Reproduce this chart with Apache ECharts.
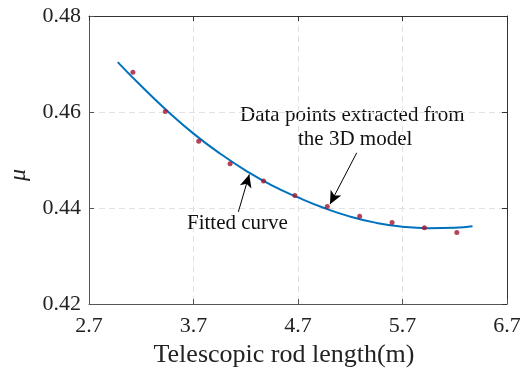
<!DOCTYPE html>
<html>
<head>
<meta charset="utf-8">
<script src="https://cdn.jsdelivr.net/npm/echarts@6/dist/echarts.min.js"></script>
<style>
  html, body { margin: 0; padding: 0; background: #fff; }
  #chart { width: 520px; height: 370px; }
</style>
</head>
<body>
<div id="chart"></div>
<script>
const rodLength = [3.12, 3.43, 3.75, 4.05, 4.37, 4.67, 4.98, 5.29, 5.60, 5.91, 6.22];
const muPoints = [0.4683, 0.4601, 0.4539, 0.4492, 0.4456, 0.4426, 0.4403, 0.4383, 0.4370, 0.4359, 0.4349];

// fitted curve
const fitX = [2.975, 3.2, 3.45, 3.7, 3.95, 4.2, 4.45, 4.7, 4.95, 5.2, 5.45, 5.7, 5.95, 6.2, 6.37];
const fitY = [0.4704, 0.4654, 0.4602, 0.4555, 0.4514, 0.4478, 0.4447, 0.4422, 0.4400, 0.4382, 0.4369, 0.4361, 0.4358, 0.4359, 0.4362];

const xTicks = [2.7, 3.7, 4.7, 5.7, 6.7];
const yTicks = [0.42, 0.44, 0.46, 0.48];

const font = "'Liberation Serif', 'Times New Roman', serif";
const axisGray = "#555";

const chart = echarts.init(document.getElementById("chart"));

const arrowLine = (from, to) => [
  { coord: from, symbol: "none" },
  { coord: to, symbol: "arrow" },
];

const option = {
  animation: false,
  grid: { left: 89, right: 13, top: 16, bottom: 66, outerBoundsMode: "none", containLabel: false },
  xAxis: [
    {
      type: "value",
      min: xTicks[0],
      max: xTicks[xTicks.length - 1],
      interval: 1,
      name: "Telescopic rod length(m)",
      nameLocation: "middle",
      nameGap: 32,
      nameTextStyle: { fontFamily: font, fontSize: 26, color: "#222", padding: [0, 28, 0, 0] },
      axisLine: { lineStyle: { color: axisGray, width: 1 } },
      axisTick: { inside: true, length: 5, lineStyle: { color: axisGray } },
      axisLabel: {
        fontFamily: font, fontSize: 22, color: "#222", margin: 11,
        formatter: (v) => v.toFixed(1),
      },
      splitLine: { show: true, lineStyle: { color: "#e2e2e2", type: [6, 4] } },
    },
    {
      type: "value",
      position: "top",
      min: xTicks[0],
      max: xTicks[xTicks.length - 1],
      interval: 1,
      axisLine: { lineStyle: { color: "#333", width: 1 } },
      axisTick: { inside: true, length: 5, lineStyle: { color: "#333" } },
      axisLabel: { show: false },
      splitLine: { show: false },
    },
  ],
  yAxis: [
    {
      type: "value",
      min: yTicks[0],
      max: yTicks[yTicks.length - 1],
      interval: 0.02,
      name: "μ",
      nameLocation: "middle",
      nameGap: 58,
      nameRotate: 90,
      nameTextStyle: { fontFamily: font, fontSize: 24, fontStyle: "italic", color: "#222", padding: [0, 0, 0, -30] },
      axisLine: { lineStyle: { color: axisGray, width: 1 } },
      axisTick: { inside: true, length: 5, lineStyle: { color: axisGray } },
      axisLabel: {
        fontFamily: font, fontSize: 22, color: "#222", margin: 8,
        formatter: (v) => v.toFixed(2),
      },
      splitLine: { show: true, lineStyle: { color: "#e2e2e2", type: [6, 4] } },
    },
    {
      type: "value",
      position: "right",
      min: yTicks[0],
      max: yTicks[yTicks.length - 1],
      interval: 0.02,
      axisLine: { lineStyle: { color: "#333", width: 1 } },
      axisTick: { inside: true, length: 5, lineStyle: { color: "#333" } },
      axisLabel: { show: false },
      splitLine: { show: false },
    },
  ],
  series: [
    {
      name: "Fitted curve",
      type: "line",
      smooth: true,
      showSymbol: false,
      data: fitX.map((x, i) => [x, fitY[i]]),
      lineStyle: { color: "#0072BD", width: 2 },
      z: 2,
    },
    {
      name: "Data points",
      type: "scatter",
      symbolSize: 5,
      data: rodLength.map((x, i) => [x, muPoints[i]]),
      itemStyle: { color: "#A2142F" },
      z: 3,
      markLine: {
        silent: true,
        symbolSize: [9, 13],
        label: { show: false },
        lineStyle: { color: "#000", width: 1, type: "solid" },
        data: [
          arrowLine([5.262, 0.4515], [5.006, 0.4408]),
          arrowLine([4.129, 0.4392], [4.234, 0.4470]),
        ],
      },
    },
  ],
  graphic: [
    {
      type: "text",
      left: 240,
      top: 105,
      style: {
        text: "Data points extracted from",
        font: `21px ${font}`,
        fill: "#111",
      },
    },
    {
      type: "text",
      left: 298,
      top: 129,
      style: {
        text: "the 3D model",
        font: `21px ${font}`,
        fill: "#111",
      },
    },
    {
      type: "text",
      left: 187,
      top: 213,
      style: {
        text: "Fitted curve",
        font: `21px ${font}`,
        fill: "#111",
      },
    },
  ],
};

chart.setOption(option);
</script>
</body>
</html>
